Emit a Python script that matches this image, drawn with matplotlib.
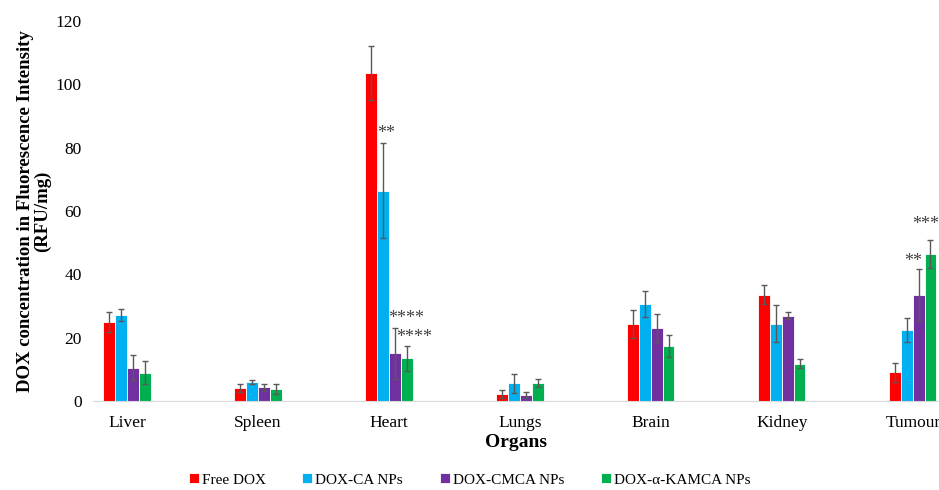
import numpy as np
import matplotlib
matplotlib.use("Agg")
import matplotlib.pyplot as plt

# --- Data ---
organs = ["Liver", "Spleen", "Heart", "Lungs", "Brain", "Kidney", "Tumour"]
series_names = ["Free DOX", "DOX-CA NPs", "DOX-CMCA NPs", "DOX-\u03b1-KAMCA NPs"]

free_dox = [25.0, 4.1, 103.6, 2.3, 24.3, 33.5, 9.1]
dox_ca = [27.2, 6.0, 66.4, 5.6, 30.5, 24.4, 22.3]
dox_cmca = [10.5, 4.3, 15.1, 2.0, 23.0, 27.0, 33.5]
dox_kamca = [9.0, 3.7, 13.5, 5.6, 17.4, 11.8, 46.3]

free_dox_err = [3.2, 1.2, 8.5, 1.2, 4.4, 3.0, 3.0]
dox_ca_err = [2.0, 0.5, 15.0, 3.0, 4.1, 5.8, 3.8]
dox_cmca_err = [4.0, 1.0, 8.0, 1.0, 4.4, 1.1, 8.2]
dox_kamca_err = [3.6, 1.6, 4.0, 1.3, 3.5, 1.4, 4.4]

# significance marks: (organ index, series index, label, y value)
sig_marks = [
    (2, 1, "**", 84.6),
    (2, 2, "****", 26.2),
    (2, 3, "****", 20.2),
    (6, 2, "**", 43.9),
    (6, 3, "***", 55.6),
]
# small horizontal nudges for the star labels (in category units)
sig_nudge = [0.027, 0.084, 0.06, -0.04, -0.04]

colors = ["#FF0000", "#00B0F0", "#7030A0", "#00B050"]

plt.rcParams['font.family'] = ['Liberation Serif', 'DejaVu Serif']

fig = plt.figure(figsize=(9.39, 4.90), dpi=100)
ax = fig.add_axes([93 / 939, 89 / 490, 846 / 939, 380 / 490])

values = [free_dox, dox_ca, dox_cmca, dox_kamca]
errors = [free_dox_err, dox_ca_err, dox_cmca_err, dox_kamca_err]
x = np.arange(len(organs))
w = 0.09
offsets = [-1.5 * w, -0.5 * w, 0.5 * w, 1.5 * w]

for vals, errs, off, col, name in zip(values, errors, offsets, colors, series_names):
    ax.bar(x + off, vals, width=w, color=col, edgecolor="white", linewidth=0.6,
           label=name, yerr=errs, capsize=2.5,
           error_kw=dict(ecolor="#595959", elinewidth=1, capthick=1))

for (oi, si, lab, yv), dx in zip(sig_marks, sig_nudge):
    ax.text(x[oi] + offsets[si] + dx, yv, lab, ha="center", va="center",
            fontsize=13, color="#404040", clip_on=False)

ax.set_xlim(-0.26, 6.2)
ax.set_ylim(0, 120)
ax.set_yticks(np.arange(0, 121, 20))
ax.set_xticks(x)
ax.set_xticklabels(organs, fontsize=12.5)
ax.tick_params(axis="y", labelsize=12.5, length=0, pad=8)
ax.tick_params(axis="x", length=0, pad=10)

for s in ["top", "right", "left"]:
    ax.spines[s].set_visible(False)
ax.spines["bottom"].set_color("#D9D9D9")

ax.set_ylabel("DOX concentration in Fluorescence Intensity\n(RFU/mg)",
              fontsize=13.5, fontweight="bold", labelpad=3, linespacing=1.0)
ax.set_xlabel("Organs", fontsize=14, fontweight="bold", labelpad=2)

fig.legend(loc="center", bbox_to_anchor=(0.5, 10 / 490), ncol=4, frameon=False,
           fontsize=11, handlelength=0.65, handleheight=0.65, handletextpad=0.2,
           columnspacing=2.4, borderpad=0.1)

fig.savefig("out.png", dpi=100)
